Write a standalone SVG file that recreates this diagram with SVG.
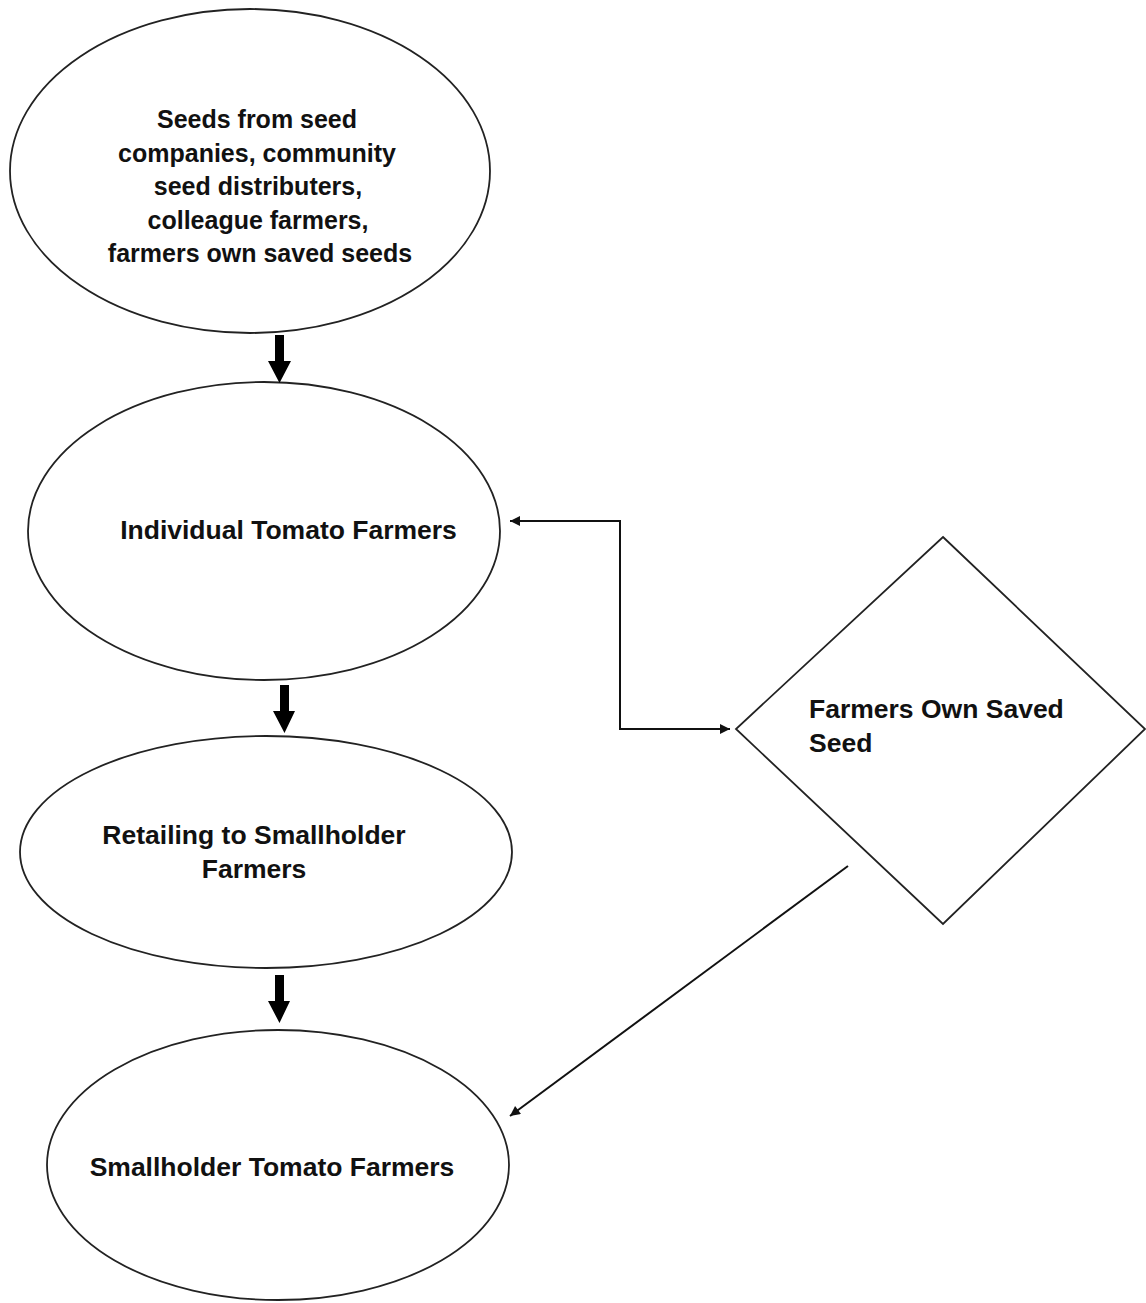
<svg xmlns="http://www.w3.org/2000/svg" width="1146" height="1303" viewBox="0 0 1146 1303">
<style>
.shape{fill:#fff;stroke:#222;stroke-width:1.8}
.lbl{font-family:"Liberation Sans",Arial,sans-serif;font-weight:bold;font-size:26.5px;fill:#111}
.top{font-size:25px}
.c{text-anchor:middle}
.conn{fill:none;stroke:#111;stroke-width:2}
.thick{fill:#000;stroke:none}
</style>
<defs>
<marker id="ah" viewBox="0 0 10 10" refX="10" refY="5" markerWidth="6" markerHeight="5" markerUnits="strokeWidth" orient="auto-start-reverse">
<path d="M0,0 L10,5 L0,10 z" fill="#111"/>
</marker>
</defs>
<rect width="1146" height="1303" fill="#fff"/>
<g id="node-seeds">
<ellipse class="shape" cx="250" cy="171" rx="240" ry="162"/>
<text class="lbl top c" x="257" y="128">Seeds from seed</text>
<text class="lbl top c" x="257" y="162">companies, community</text>
<text class="lbl top c" x="258" y="195">seed distributers,</text>
<text class="lbl top c" x="258" y="229">colleague farmers,</text>
<text class="lbl top c" x="260" y="262">farmers own saved seeds</text>
</g>
<g id="node-individual">
<ellipse class="shape" cx="264" cy="531" rx="236" ry="149"/>
<text class="lbl c" x="288.5" y="539">Individual Tomato Farmers</text>
</g>
<g id="node-retailing">
<ellipse class="shape" cx="266" cy="852" rx="246" ry="116"/>
<text class="lbl c" x="254" y="844">Retailing to Smallholder</text>
<text class="lbl c" x="254" y="878">Farmers</text>
</g>
<g id="node-smallholder">
<ellipse class="shape" cx="278" cy="1165" rx="231" ry="135"/>
<text class="lbl c" x="272" y="1176">Smallholder Tomato Farmers</text>
</g>
<g id="node-saved">
<polygon class="shape" points="943,537 1145,729 943,924 736,729"/>
<text class="lbl" x="809" y="718">Farmers Own Saved</text>
<text class="lbl" x="809" y="752">Seed</text>
</g>
<g id="connectors">
<path class="thick" d="M275,335 H284 V361 H291 L279.5,383 L268,361 H275 Z"/>
<path class="thick" d="M280,685 H289 V711 H295 L284.5,733 L273,711 H280 Z"/>
<path class="thick" d="M275,975 H284 V1001 H290 L279.5,1023 L268,1001 H275 Z"/>
<path class="conn" d="M510,521 H620 V729 H730" marker-start="url(#ah)" marker-end="url(#ah)"/>
<path class="conn" d="M848,866 L510,1116" stroke-width="1.6" marker-end="url(#ah)"/>
</g>
</svg>
